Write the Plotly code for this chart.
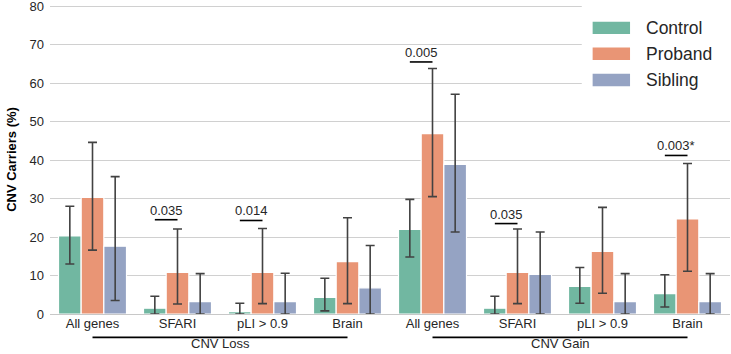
import plotly.graph_objects as go

# ---- data ----
categories = ["All genes", "SFARI", "pLI > 0.9", "Brain",
              "All genes", "SFARI", "pLI > 0.9", "Brain"]
series_names = ["Control", "Proband", "Sibling"]

control = [20.3, 1.5, 0.6, 4.3, 22.0, 1.5, 7.2, 5.3]
control_lo = [13.0, 0.0, 0.0, 0.8, 14.8, 0.0, 2.8, 1.8]
control_hi = [28.0, 4.6, 2.8, 9.3, 29.8, 4.6, 12.1, 10.2]

proband = [30.3, 10.8, 10.8, 13.6, 46.9, 10.8, 16.3, 24.7]
proband_lo = [16.6, 2.6, 2.7, 2.7, 30.5, 2.7, 5.4, 11.1]
proband_hi = [44.6, 22.1, 22.2, 25.0, 63.8, 22.1, 27.7, 39.1]

sibling = [17.6, 3.2, 3.2, 6.8, 38.9, 10.3, 3.2, 3.2]
sibling_lo = [3.5, 0.0, 0.0, 0.0, 21.3, 0.0, 0.0, 0.0]
sibling_hi = [35.7, 10.5, 10.6, 17.8, 57.1, 21.3, 10.5, 10.5]

pval_groups = [1, 2, 4, 5, 7]
pval_text = ["0.035", "0.014", "0.005", "0.035", "0.003*"]
pval_y = [24.5, 24.3, 65.5, 23.5, 41.2]

section_names = ["CNV Loss", "CNV Gain"]
section_start = [0, 4]
section_end = [3, 7]

yticks = [0, 10, 20, 30, 40, 50, 60, 70, 80]

# ---- style ----
colors = ["#71b7a1", "#e99575", "#95a3c3"]
FONT = "Liberation Sans, Arial, sans-serif"
TXT = "#262626"
ERR = "#424242"

x = list(range(len(categories)))
values = [control, proband, sibling]
los = [control_lo, proband_lo, sibling_lo]
his = [control_hi, proband_hi, sibling_hi]

fig = go.Figure()
for name, v, lo, hi, c in zip(series_names, values, los, his, colors):
    fig.add_trace(go.Bar(
        x=x, y=v, name=name,
        marker=dict(color=c, line=dict(color="white", width=1.2)),
        error_y=dict(type="data", symmetric=False,
                     array=[h - a for h, a in zip(hi, v)],
                     arrayminus=[a - l for a, l in zip(v, lo)],
                     color=ERR, thickness=1.6, width=4.5),
        showlegend=False,
    ))

ngroups = len(series_names)
bar_w = 0.8 / ngroups

shapes = []
annotations = []

# p-value brackets (control centre -> proband centre)
for g, t, yv in zip(pval_groups, pval_text, pval_y):
    x0 = g - bar_w
    x1 = g
    shapes.append(dict(type="line", xref="x", yref="y", x0=x0, x1=x1,
                       y0=yv, y1=yv, line=dict(color="black", width=1.6)))
    annotations.append(dict(x=(x0 + x1) / 2, y=yv, xref="x", yref="y",
                            text=t, showarrow=False, yanchor="bottom",
                            yshift=0, font=dict(family=FONT, size=13, color=TXT)))

# plot-area geometry (pixels) used for paper coordinates
TOP, BOT = 5.4, 39.7
H = 354 - TOP - BOT


def py(pix):
    """pixel row -> paper y"""
    return (354 - BOT - pix) / H


# section lines under the axis
for nm, s, e in zip(section_names, section_start, section_end):
    shapes.append(dict(type="line", xref="x", yref="paper", x0=s, x1=e,
                       y0=py(337.7), y1=py(337.7),
                       line=dict(color="black", width=1.6)))
    annotations.append(dict(x=(s + e) / 2, y=py(353.5), xref="x", yref="paper",
                            text=nm, showarrow=False, yanchor="bottom",
                            font=dict(family=FONT, size=13, color=TXT)))

# legend (white box + swatches + labels)
shapes.append(dict(type="rect", xref="paper", yref="paper", x0=0.782, x1=1.0,
                   y0=py(98), y1=1.03, fillcolor="white", line=dict(width=0),
                   layer="above"))
leg_rows = [py(28.3), py(54.2), py(80.4)]
half_h = 6.2 / H
for nm, c, yc in zip(series_names, colors, leg_rows):
    shapes.append(dict(type="rect", xref="paper", yref="paper",
                       x0=0.798, x1=0.853, y0=yc - half_h, y1=yc + half_h,
                       fillcolor=c, line=dict(width=0), layer="above"))
    annotations.append(dict(x=0.874, y=yc, xref="paper", yref="paper",
                            text=nm, showarrow=False, xanchor="left",
                            yanchor="middle",
                            font=dict(family=FONT, size=17.5, color=TXT)))

fig.update_layout(
    width=731, height=354,
    margin=dict(l=50, r=1, t=TOP, b=BOT, autoexpand=False),
    paper_bgcolor="white", plot_bgcolor="white",
    barmode="group", bargap=0.2, bargroupgap=0.0,
    font=dict(family=FONT, size=13, color=TXT),
    shapes=shapes, annotations=annotations,
    xaxis=dict(range=[-0.5, 7.5], tickvals=x, ticktext=categories,
               showgrid=False, zeroline=False, showline=False, ticks="",
               automargin=False,
               tickfont=dict(family=FONT, size=13, color=TXT)),
    yaxis=dict(range=[0, 80.3], tickvals=yticks, showgrid=True,
               gridcolor="#d0d0d0", gridwidth=1.2, zeroline=True,
               zerolinecolor="#c8c8c8", zerolinewidth=1.4,
               showline=False, ticks="", automargin=False,
               ticklabelstandoff=5, ticklabeloverflow="allow",
               tickfont=dict(family=FONT, size=13, color=TXT),
               title=dict(text="<b>CNV Carriers (%)</b>", standoff=9,
                          font=dict(family=FONT, size=13, color="black"))),
)

fig.write_html("out.html",
               config={"displayModeBar": False},
               post_script="document.body.style.margin='0';"
                           "document.body.style.overflow='hidden';")
